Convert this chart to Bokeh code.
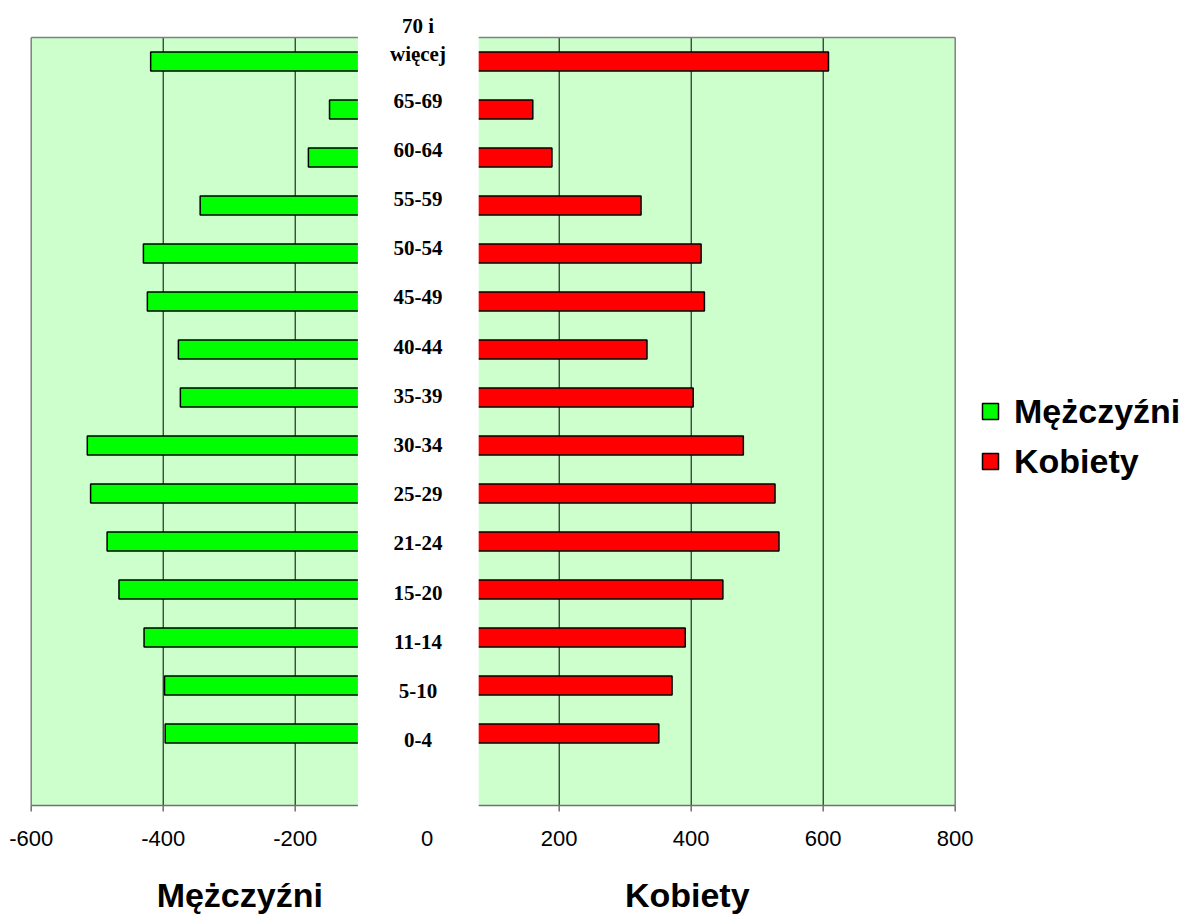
from bokeh.plotting import figure
from bokeh.models import Range1d, FixedTicker, Legend, LegendItem, ColumnDataSource, LinearAxis
from bokeh.embed import file_html
from bokeh.resources import INLINE
from bokeh.core.properties import value

# ---------------- data ----------------
CATEGORIES = ["0-4", "5-10", "11-14", "15-20", "21-24", "25-29", "30-34", "35-39",
              "40-44", "45-49", "50-54", "55-59", "60-64", "65-69", "70 i\nwięcej"]
MEN = [397, 398, 429, 467, 485, 510, 515, 374, 377, 424, 430, 344, 180, 148, 419]
WOMEN = [351, 371, 391, 448, 533, 527, 479, 403, 333, 420, 415, 324, 189, 160, 608]
SERIES = ["Mężczyźni", "Kobiety"]
X_TICKS = [-600, -400, -200, 0, 200, 400, 600, 800]
GRID_X = [-400, -200, 200, 400, 600]
TITLE_X = [-284, 394]

# ---------------- layout constants ----------------
X_MIN, X_MAX = -600, 800
N_SLOTS = 16                 # 15 age groups + one empty slot at the bottom
BAND_L, BAND_R = -105, 78    # white band holding the category labels
W, H = 1184, 918
PXU = 0.66                   # px per x unit
PXY = 48.0                   # px per category slot
GREEN_LEFT_PX = 30.7
GREEN_TOP_PX = 37
PAD_BOTTOM_PX = 8
FRAME_H = int(N_SLOTS * PXY + GREEN_TOP_PX + PAD_BOTTOM_PX)
BOTTOM_PANEL = H - FRAME_H

x0 = X_MIN - GREEN_LEFT_PX / PXU
x1 = x0 + W / PXU
y0 = -PAD_BOTTOM_PX / PXY
y1 = N_SLOTS + GREEN_TOP_PX / PXY

GREEN_BG = "#CCFFCC"
MEN_C = "#00FF00"
WOMEN_C = "#FF0000"
BORDER_C = "#808080"

p = figure(width=W, height=H, title=None,
           x_range=Range1d(x0, x1), y_range=Range1d(y0, y1),
           min_border_left=0, min_border_right=0,
           min_border_top=0, min_border_bottom=BOTTOM_PANEL,
           y_axis_location=None, output_backend="svg", toolbar_location=None)
p.outline_line_color = None
p.xgrid.visible = False
p.ygrid.visible = False
p.background_fill_color = "white"
p.border_fill_color = "white"

n = len(CATEGORIES)
ys = [i + 1.5 for i in range(n)]
src = ColumnDataSource(dict(y=ys, men=[-v for v in MEN], women=WOMEN, zero=[0] * n))

# plot area background
p.quad(left=X_MIN, right=X_MAX, bottom=0, top=N_SLOTS, fill_color=GREEN_BG, line_color=None)
# gridlines
p.segment(x0=GRID_X, y0=0, x1=GRID_X, y1=N_SLOTS, line_color="black", line_width=1)
# bars
men_r = p.hbar(y="y", left="men", right="zero", height=0.4, source=src,
               fill_color=MEN_C, line_color="black", line_width=1.5)
women_r = p.hbar(y="y", left="zero", right="women", height=0.4, source=src,
                 fill_color=WOMEN_C, line_color="black", line_width=1.5)
# plot-area border
p.segment(x0=[X_MIN, X_MAX, X_MIN], y0=[0, 0, N_SLOTS],
          x1=[X_MIN, X_MAX, X_MAX], y1=[N_SLOTS, N_SLOTS, N_SLOTS],
          line_color=BORDER_C, line_width=1.5)
# axis line and tick marks
p.segment(x0=X_MIN, y0=0, x1=X_MAX, y1=0, line_color="#707070", line_width=1.5)
p.segment(x0=X_TICKS, y0=0, x1=X_TICKS, y1=-6 / PXY, line_color="#707070", line_width=1.5)
# white band in the middle
p.quad(left=BAND_L, right=BAND_R, bottom=y0, top=y1, fill_color="white", line_color=None)

# category labels
LABEL_BASE, LABEL_STEP = 1.215, 1.025
label_ys = [LABEL_BASE + LABEL_STEP * i for i in range(n)]
label_dy = [8 if "\n" in c else 0 for c in CATEGORIES]
lsrc = ColumnDataSource(dict(y=label_ys, text=CATEGORIES, dy=label_dy))
p.text(x=-14, y="y", text="text", y_offset="dy", source=lsrc,
       text_font=value("Liberation Serif"),
       text_font_style="bold", text_font_size="21px", text_color="black",
       text_align="center", text_baseline="bottom")

# x axis tick labels
ax = p.xaxis[0]
ax.ticker = FixedTicker(ticks=X_TICKS)
ax.major_label_overrides = {t: str(t) for t in X_TICKS}
ax.axis_line_color = None
ax.major_tick_line_color = None
ax.minor_tick_line_color = None
ax.major_tick_out = 0
ax.major_tick_in = 0
ax.major_label_standoff = 17
ax.major_label_text_font = "Liberation Sans"
ax.major_label_text_font_size = "22px"
ax.major_label_text_color = "black"

# side titles as a second axis below
ax2 = LinearAxis(ticker=FixedTicker(ticks=TITLE_X),
                 major_label_overrides={TITLE_X[0]: SERIES[0], TITLE_X[1]: SERIES[1]},
                 axis_line_color=None, major_tick_line_color=None, minor_tick_line_color=None,
                 major_tick_out=0, major_tick_in=0,
                 major_label_standoff=27, major_label_text_font="Liberation Sans",
                 major_label_text_font_style="bold", major_label_text_font_size="34px",
                 major_label_text_color="black")
p.add_layout(ax2, "below")

legend = Legend(items=[LegendItem(label=SERIES[0], renderers=[men_r]),
                       LegendItem(label=SERIES[1], renderers=[women_r])],
                location=(980, 332), orientation="vertical",
                glyph_width=20, glyph_height=20, label_height=40, spacing=10,
                padding=0, margin=0, label_standoff=14,
                border_line_color=None, background_fill_alpha=0,
                label_text_font="Liberation Sans", label_text_font_style="bold",
                label_text_font_size="34px", label_text_color="black")
p.add_layout(legend)

open("out.html", "w").write(file_html(p, INLINE))
